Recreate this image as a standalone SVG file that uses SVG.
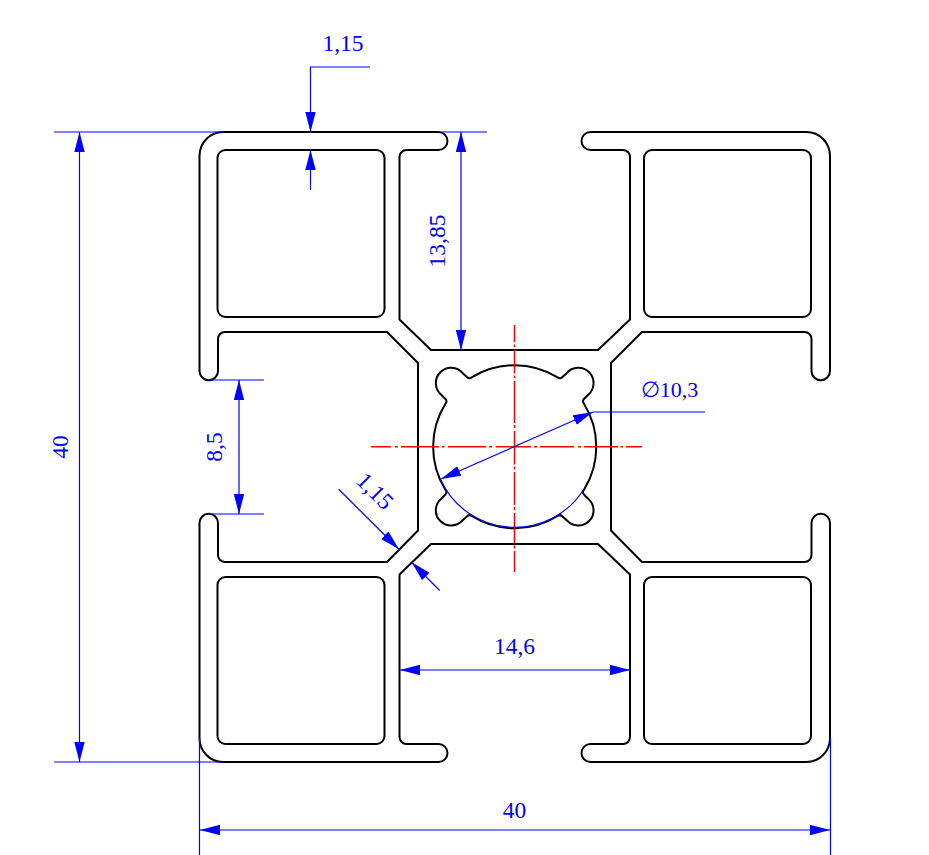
<svg xmlns="http://www.w3.org/2000/svg" width="929" height="855" viewBox="0 0 929 855">
<style>
.prof{fill:none;stroke:#000;stroke-width:2;stroke-linejoin:round}
.dim{fill:none;stroke:#0000ff;stroke-width:1.2}
.arr{marker-end:url(#arrow)}
.both{marker-start:url(#arrow);marker-end:url(#arrow)}
.ctr{fill:none;stroke:#ff0000;stroke-width:1.5}
text{font-family:"Liberation Serif","Times New Roman",serif;font-size:23.5px;fill:#0000ff;text-anchor:middle}
</style>
<defs>
<marker id="arrow" markerUnits="userSpaceOnUse" markerWidth="21" markerHeight="11" refX="20" refY="5.2" orient="auto-start-reverse">
<path d="M0,0L20,5.2L0,10.4Z" fill="#0000ff"/>
</marker>
</defs>
<rect width="929" height="855" fill="#fff"/>
<g id="profile">
<path id="outline" class="prof" d="M431,350H598L630,319.5V157A7,7 0 0 0 623,150H590.5A9,9 0 0 1 590.5,132H806.5A23.5,24 0 0 1 830,156V371A9.25,9.25 0 0 1 811.5,371V339A7,7 0 0 0 804.5,332H642L611,363V530.5L642,562H804.5A7,7 0 0 0 811.5,555V523A9.25,9.25 0 0 1 830,523V738A23.5,24 0 0 1 806.5,762H590.5A9,9 0 0 1 590.5,744H623A7,7 0 0 0 630,737V574.5L598,544H431L399.5,574.5V737A7,7 0 0 0 406.5,744H438.5A9,9 0 0 1 438.5,762H223A23.5,24 0 0 1 199.5,738V523A9.25,9.25 0 0 1 218,523V555A7,7 0 0 0 225,562H387L418,530.5V363L387,332H225A7,7 0 0 0 218,339V371A9.25,9.25 0 0 1 199.5,371V156A23.5,24 0 0 1 223,132H438.5A9,9 0 0 1 438.5,150H406.5A7,7 0 0 0 399.5,157V319.5Z"/>
<rect id="pocket-tl" class="prof" x="217.5" y="150" width="167" height="167" rx="8"/>
<rect id="pocket-tr" class="prof" x="644" y="150" width="167" height="167" rx="8"/>
<rect id="pocket-bl" class="prof" x="217.5" y="577" width="167" height="167" rx="8"/>
<rect id="pocket-br" class="prof" x="644" y="577" width="167" height="167" rx="8"/>
<path id="bore" class="prof" transform="translate(514.7 446.7)" d="M-43,-69.3A81.5,81.5 0 0 1 43,-69.3A3.5,3.5 0 0 0 47.5,-69.5L52,-73.5A15.25,15.25 0 1 1 73.5,-52L69,-47.5A3.5,3.5 0 0 0 69.3,-43A81.5,81.5 0 0 1 69.3,43A3.5,3.5 0 0 0 69,47.5L73.5,52A15.25,15.25 0 1 1 52,73.5L47.5,69.5A3.5,3.5 0 0 0 43,69.3A81.5,81.5 0 0 1 -43,69.3A3.5,3.5 0 0 0 -47.5,69.5L-52,73.5A15.25,15.25 0 1 1 -73.5,52L-69,47.5A3.5,3.5 0 0 0 -69.3,43A81.5,81.5 0 0 1 -69.3,-43A3.5,3.5 0 0 0 -69,-47.5L-73.5,-52A15.25,15.25 0 1 1 -52,-73.5L-47.5,-69.5A3.5,3.5 0 0 0 -43,-69.3Z"/>
</g>
<g id="centerlines">
<path class="ctr" d="M371,446.7H391M395,446.7H398M401,446.7H439M442,446.7H444.5M448,446.7H486M489,446.7H492M495.7,446.7H531M534,446.7H537M540,446.7H574M578,446.7H581M584,446.7H618M620.5,446.7H623M626,446.7H642"/>
<path class="ctr" d="M514.5,325V342M514.5,344.5V347M514.5,350V373.5M514.5,375.5V378M514.5,381V423M514.5,425V428M514.5,431V464.5M514.5,466.5V469.5M514.5,472V505M514.5,507V510M514.5,513V543.5M514.5,545.5V548.5M514.5,551V572"/>
</g>
<g id="connectors">
<path class="dim" d="M54,132H223M54,762H222M441,132H487M209,380H264M209,514H264M199.5,738V855M830.5,738V855"/>
<path class="dim arr" d="M370,67H310.5V132"/>
<path class="dim arr" d="M310.5,190V150"/>
<path class="dim both" d="M79.5,132V762"/>
<path class="dim both" d="M461,132V350"/>
<path class="dim both" d="M239,380V514"/>
<path class="dim both" d="M400,670H630"/>
<path class="dim both" d="M200,830H830"/>
<path class="dim" d="M705,412H593"/>
<path class="dim both" d="M593,412L441,479"/>
<path class="dim" d="M440.5,479.5A81.5,81.5 0 0 0 583.3,490"/>
<path class="dim arr" d="M338.7,489.3L399,549.3"/>
<path class="dim arr" d="M439.7,590.5L411.7,562.3"/>
</g>
<g id="labels">
<text x="343" y="50.5">1,15</text>
<text transform="translate(67.5 447) rotate(-90)">40</text>
<text transform="translate(444.5 241) rotate(-90)">13,85</text>
<text transform="translate(221.5 447) rotate(-90)">8,5</text>
<text transform="translate(369.5 496.5) rotate(45)">1,15</text>
<text x="514.5" y="654">14,6</text>
<text x="514.5" y="818">40</text>
<text x="669.5" y="397" style="font-size:22px">∅10,3</text>
</g>
</svg>
